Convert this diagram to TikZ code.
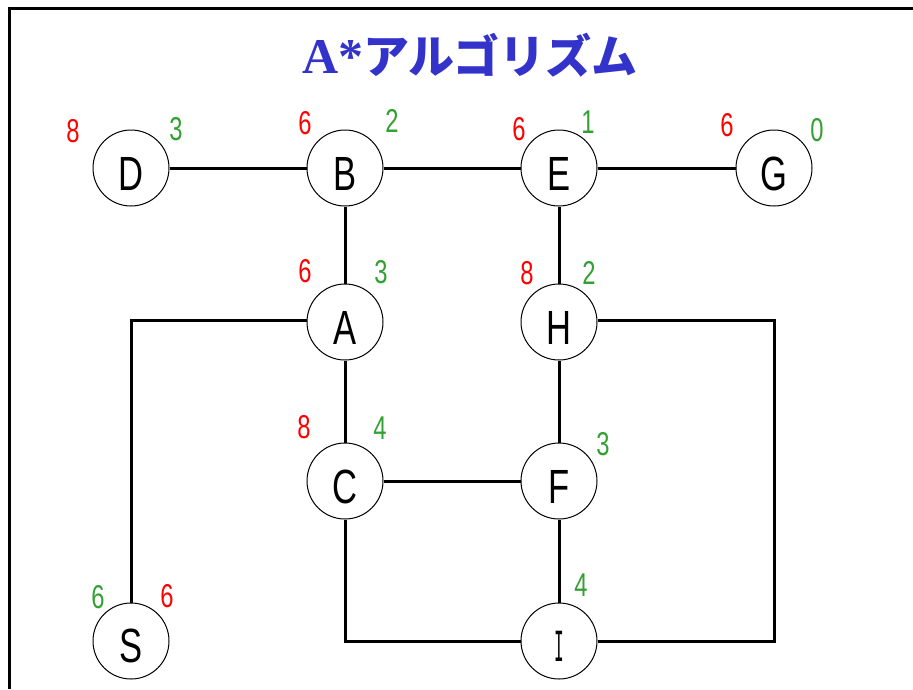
\documentclass[tikz,border=0pt]{standalone}
\usepackage{fontspec}
\newfontfamily\labfont[FakeStretch=0.72]{Liberation Sans}
\newfontfamily\numfont[FakeStretch=0.72]{Liberation Sans}
\newfontfamily\ifont[FakeStretch=0.35]{Liberation Mono}
\newfontfamily\titlefont{Liberation Serif}
\newfontfamily\cjk{Noto Sans CJK JP}
\definecolor{hgreen}{RGB}{51,160,51}
\definecolor{tblue}{RGB}{51,51,204}
\begin{document}
\begin{tikzpicture}[x=1pt,y=-1pt,
  circ/.style={draw, circle, fill=white, line width=1pt, minimum size=76pt, inner sep=0pt},
  conn/.style={line width=3pt},
  lab/.style={font=\labfont\fontsize{48}{48}\selectfont, inner sep=0pt},
  ilab/.style={font=\ifont\fontsize{46}{46}\selectfont, inner sep=0pt},
  fval/.style={text=red, font=\numfont\fontsize{33}{33}\selectfont, inner sep=0pt},
  hval/.style={text=hgreen, font=\numfont\fontsize{33}{33}\selectfont, inner sep=0pt}]
\useasboundingbox (0,0) rectangle (913,689);
% frame
\coordinate (fr1) at (9.5,689);
\coordinate (fr2) at (9.5,8);
\coordinate (fr3) at (913,8);
\draw[line width=3pt] (fr1) -- (fr2) -- (fr3);
% title
\node[text=tblue, inner sep=0pt] (title) at (470,55) {{\titlefont\bfseries\fontsize{50}{50}\selectfont A*}{\cjk\bfseries\fontsize{46}{46}\selectfont アルゴリズム}};
% nodes
\node[circ] (D) at (131,168) {};
\node[circ] (B) at (345,168) {};
\node[circ] (E) at (559,168) {};
\node[circ] (G) at (774,168) {};
\node[circ] (A) at (345,322) {};
\node[circ] (H) at (559,322) {};
\node[circ] (C) at (345,481) {};
\node[circ] (F) at (559,481) {};
\node[circ] (S) at (131,641) {};
\node[circ] (I) at (559,641) {};
% connectors
\coordinate (br) at (774,641);
\draw[conn] (D) -- (B);
\draw[conn] (B) -- (E);
\draw[conn] (E) -- (G);
\draw[conn] (B) -- (A);
\draw[conn] (E) -- (H);
\draw[conn] (A) -- (C);
\draw[conn] (H) -- (F);
\draw[conn] (C) -- (F);
\draw[conn] (F) -- (I);
\draw[conn] ([yshift=2pt]A.west) -| (S.north);
\draw[conn] ([yshift=2pt]H.east) -| (br) -- (I.east);
\draw[conn] (C.south) |- (I.west);
% labels
\node[lab] (Dt) at (131,174) {D};
\node[lab] (Bt) at (345,174) {B};
\node[lab] (Et) at (559,174) {E};
\node[lab] (Gt) at (774,174) {G};
\node[lab] (At) at (345,328) {A};
\node[lab] (Ht) at (559,328) {H};
\node[lab] (Ct) at (345,487) {C};
\node[lab] (Ft) at (559,487) {F};
\node[lab] (St) at (131,646) {S};
\node[ilab] (It) at (559,646) {I};
% values
\node[fval] (Df) at (73,131) {8};
\node[hval] (Dh) at (176,129) {3};
\node[fval] (Bf) at (305,123) {6};
\node[hval] (Bh) at (392,121) {2};
\node[fval] (Ef) at (519,129) {6};
\node[hval] (Eh) at (588,122) {1};
\node[fval] (Gf) at (727,125) {6};
\node[hval] (Gh) at (817,130) {0};
\node[fval] (Af) at (305,271) {6};
\node[hval] (Ah) at (381,272) {3};
\node[fval] (Hf) at (527,273) {8};
\node[hval] (Hh) at (589,273) {2};
\node[fval] (Cf) at (304,427) {8};
\node[hval] (Ch) at (380,428) {4};
\node[hval] (Fh) at (603,444) {3};
\node[hval] (Ih) at (581,585) {4};
\node[hval] (Sh) at (98,597) {6};
\node[fval] (Sf) at (167,596) {6};
\end{tikzpicture}
\end{document}
